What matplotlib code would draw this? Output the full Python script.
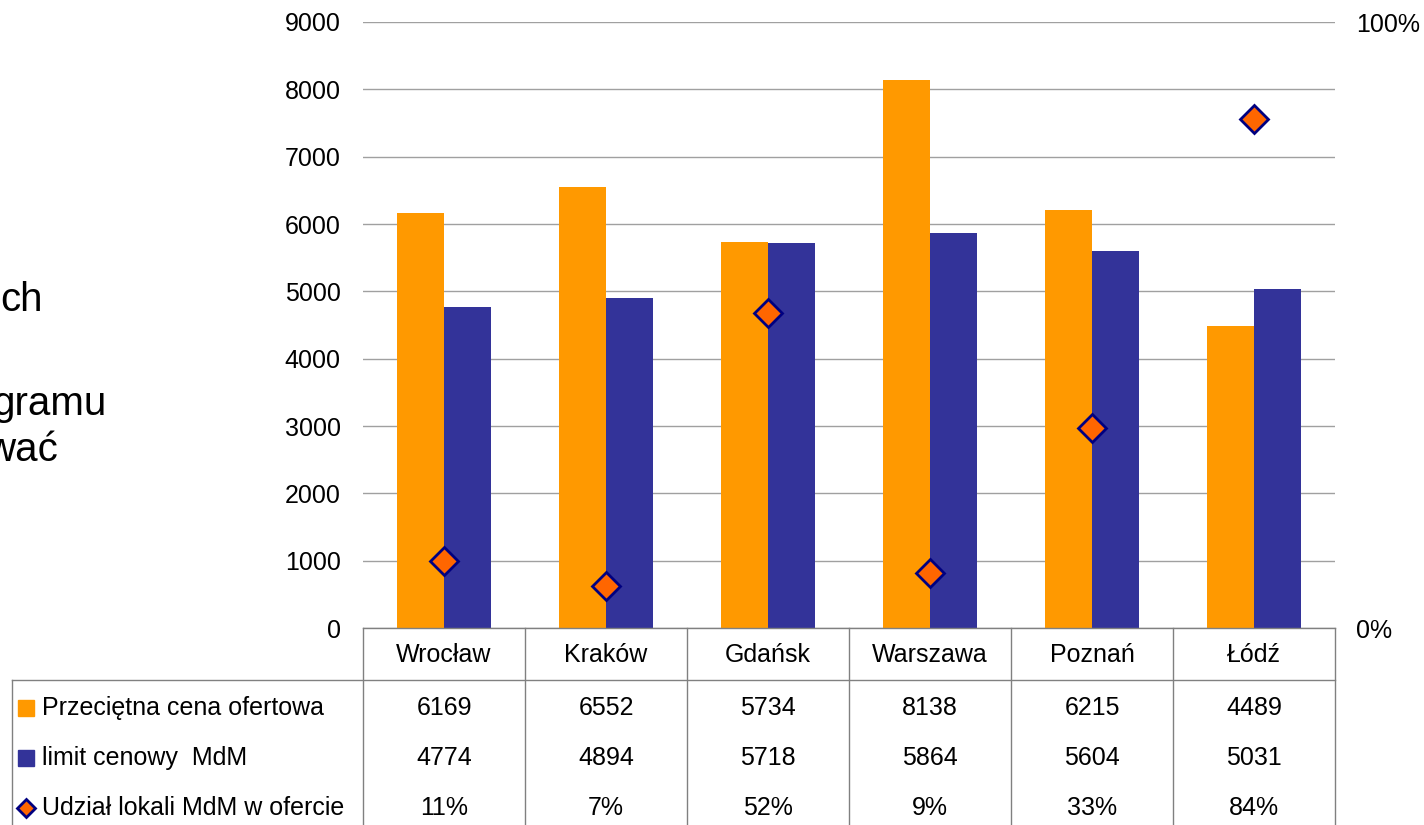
import matplotlib
matplotlib.use("Agg")
import matplotlib.pyplot as plt
from matplotlib.lines import Line2D
from matplotlib.transforms import blended_transform_factory

plt.rcParams["font.family"] = ["Liberation Sans", "DejaVu Sans"]

# dane
miasta = ["Wrocław", "Kraków", "Gdańsk", "Warszawa", "Poznań", "Łódź"]
cena_ofertowa = [6169, 6552, 5734, 8138, 6215, 4489]
limit_mdm = [4774, 4894, 5718, 5864, 5604, 5031]
udzial_mdm = [0.11, 0.07, 0.52, 0.09, 0.33, 0.84]
serie = ["Przeciętna cena ofertowa", "limit cenowy  MdM", "Udział lokali MdM w ofercie"]

POMARANCZ = "#FF9900"
GRANAT = "#333399"
ROMB_FACE = "#FF6600"
ROMB_EDGE = "#000080"
SIATKA = "#A0A0A0"
FS = 18

W, H = 1424, 825
fig = plt.figure(figsize=(W / 100, H / 100), dpi=100)


def fx(px):
    return px / W


def fy(py):
    return 1 - py / H


L, R, T, B = 363, 1335, 22, 628
ax = fig.add_axes([fx(L), fy(B), fx(R) - fx(L), fy(T) - fy(B)])

x = list(range(len(miasta)))
szer = 0.29
ax.bar([i - szer / 2 for i in x], cena_ofertowa, width=szer, color=POMARANCZ, zorder=2)
ax.bar([i + szer / 2 for i in x], limit_mdm, width=szer, color=GRANAT, zorder=2)
ax.set_xlim(-0.5, len(miasta) - 0.5)
ax.set_ylim(0, 9000)
ax.set_yticks(range(0, 9001, 1000))
ax.set_xticks([])
ax.grid(axis="y", color=SIATKA, linewidth=1.0, zorder=0)
ax.set_axisbelow(True)
for s in ax.spines.values():
    s.set_visible(False)
ax.tick_params(axis="y", length=0, pad=16, labelsize=FS)

ax2 = ax.twinx()
ax2.plot(x, udzial_mdm, linestyle="none", marker="D", markersize=14,
         markerfacecolor=ROMB_FACE, markeredgecolor=ROMB_EDGE, markeredgewidth=2, zorder=3)
ax2.set_ylim(0, 1)
ax2.set_yticks([0, 1])
ax2.set_yticklabels(["0%", "100%"])
ax2.tick_params(axis="y", length=0, pad=15, labelsize=FS)
for s in ax2.spines.values():
    s.set_visible(False)

# tabela danych
lin = dict(color="#808080", linewidth=1.0)
fig.add_artist(Line2D([fx(L), fx(R)], [fy(B), fy(B)], **lin))
fig.add_artist(Line2D([fx(12), fx(R)], [fy(680), fy(680)], **lin))
fig.add_artist(Line2D([fx(12), fx(12)], [fy(680), 0], **lin))
tr = blended_transform_factory(ax.transData, fig.transFigure)
for k in range(len(miasta) + 1):
    fig.add_artist(Line2D([k - 0.5, k - 0.5], [fy(B), 0], transform=tr, **lin))

wiersze_y = [708, 758, 808]
for i, m in enumerate(miasta):
    fig.text(i, fy(655), m, transform=tr, ha="center", va="center", fontsize=FS)
    fig.text(i, fy(wiersze_y[0]), f"{cena_ofertowa[i]}", transform=tr, ha="center", va="center", fontsize=FS)
    fig.text(i, fy(wiersze_y[1]), f"{limit_mdm[i]}", transform=tr, ha="center", va="center", fontsize=FS)
    fig.text(i, fy(wiersze_y[2]), f"{udzial_mdm[i]:.0%}", transform=tr, ha="center", va="center", fontsize=FS)

# legenda w tabeli
znaczniki = [
    dict(marker="s", markersize=11, markerfacecolor=POMARANCZ, markeredgecolor=POMARANCZ),
    dict(marker="s", markersize=11, markerfacecolor=GRANAT, markeredgecolor=GRANAT),
    dict(marker="D", markersize=9, markerfacecolor=ROMB_FACE, markeredgecolor=ROMB_EDGE, markeredgewidth=2),
]
for y, nazwa, zn in zip(wiersze_y, serie, znaczniki):
    fig.add_artist(Line2D([fx(26)], [fy(y)], linestyle="none", **zn))
    fig.text(fx(42), fy(y), nazwa, ha="left", va="center", fontsize=FS)

# fragmenty tekstu slajdu obciętego z lewej
fig.text(fx(43), fy(300), "ch", ha="right", va="center", fontsize=29)
fig.text(fx(106), fy(404), "gramu", ha="right", va="center", fontsize=29)
fig.text(fx(58), fy(450), "wać", ha="right", va="center", fontsize=29)

fig.savefig("out.png", dpi=100)
